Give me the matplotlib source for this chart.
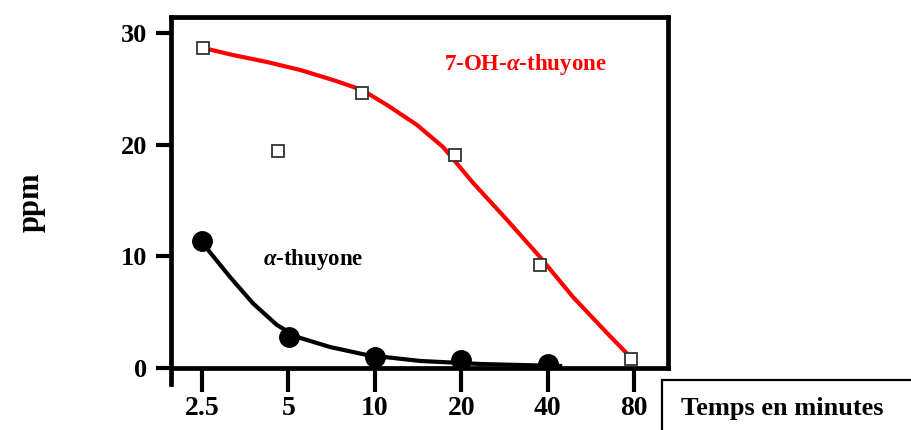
import matplotlib.pyplot as plt
from matplotlib.patches import Rectangle

plt.rcParams['font.family'] = ['Liberation Serif', 'DejaVu Serif']
plt.rcParams['font.weight'] = 'bold'
plt.rcParams['mathtext.fontset'] = 'custom'
plt.rcParams['mathtext.rm'] = 'Liberation Serif:bold'
plt.rcParams['mathtext.it'] = 'Liberation Serif:italic:bold'

# temps (minutes) and ppm
time_ticks = [2.5, 5, 10, 20, 40, 80]
tick_labels = ["2.5", "5", "10", "20", "40", "80"]

oh_time = [2.53, 4.6, 9.05, 19.0, 37.6, 78.1]
oh_ppm = [28.65, 19.4, 24.6, 19.1, 9.2, 0.8]
oh_curve_t = [2.52, 3.2, 4.21, 5.49, 7.15, 9.03, 11.03, 14.03, 17.28, 22.0, 28.9, 37.6, 49.0, 64.4, 79.4]
oh_curve_y = [28.66, 28.03, 27.4, 26.69, 25.79, 24.9, 23.55, 21.76, 19.79, 16.57, 13.25, 9.94, 6.36, 3.13, 0.72]

thu_time = [2.5, 5.03, 10.0, 20.0, 40.0]
thu_ppm = [11.4, 2.8, 1.0, 0.7, 0.35]
thu_curve_t = [2.5, 2.62, 3.13, 3.76, 4.56, 5.36, 6.98, 9.4, 14.4, 23.3, 44.2]
thu_curve_y = [11.4, 10.6, 8.15, 5.8, 3.85, 2.78, 1.88, 1.16, 0.63, 0.36, 0.18]

fig = plt.figure(figsize=(9.11, 4.3), dpi=100)
ax = fig.add_axes([171 / 911, 62 / 430, 497 / 911, 351 / 430])

ax.plot(oh_curve_t, oh_curve_y, color="#ff0000", lw=3, solid_capstyle="round",
        solid_joinstyle="round", zorder=2)
ax.plot(oh_time, oh_ppm, ls="none", marker="s", ms=9, mfc="white", mec="#333333", mew=1.3, zorder=3)

ax.plot(thu_curve_t, thu_curve_y, color="black", lw=3, solid_joinstyle="round", zorder=2)
ax.plot(thu_time, thu_ppm, ls="none", marker="o", ms=14, color="black", zorder=3)

ax.set_xscale("log")
ax.set_xlim(1.95, 105)
ax.set_ylim(0, 31.43)
ax.set_xticks(time_ticks)
ax.set_xticklabels(tick_labels)
ax.minorticks_off()
ax.set_yticks([0, 10, 20, 30])

for s in ax.spines.values():
    s.set_linewidth(3.4)
ax.spines["left"].set_bounds(-1.4, 31.43)

ax.tick_params(axis="x", length=17, width=3, pad=3, labelsize=20)
ax.tick_params(axis="y", length=11, width=3, pad=6, labelsize=19)
for lab in ax.get_xticklabels() + ax.get_yticklabels():
    lab.set_fontweight("bold")

ax.text(0.55, 0.865, r"7-OH-$\alpha$-thuyone", transform=ax.transAxes, color="#ff0000",
        fontsize=16.5, ha="left", va="center")
ax.text(0.185, 0.31, r"$\alpha$-thuyone", transform=ax.transAxes, color="black",
        fontsize=16.5, ha="left", va="center")

fig.text(31 / 911, 1 - 202 / 430, "ppm", rotation=90, fontsize=22, fontweight="bold",
         ha="center", va="center")

fig.patches.append(Rectangle((662 / 911, -0.1), 0.5, 0.1 + 50 / 430, transform=fig.transFigure,
                             fill=False, edgecolor="black", lw=1.6))
fig.text(681 / 911, 1 - 408 / 430, "Temps en minutes", fontsize=19, fontweight="bold",
         ha="left", va="center")

fig.savefig("out.png", dpi=100)
